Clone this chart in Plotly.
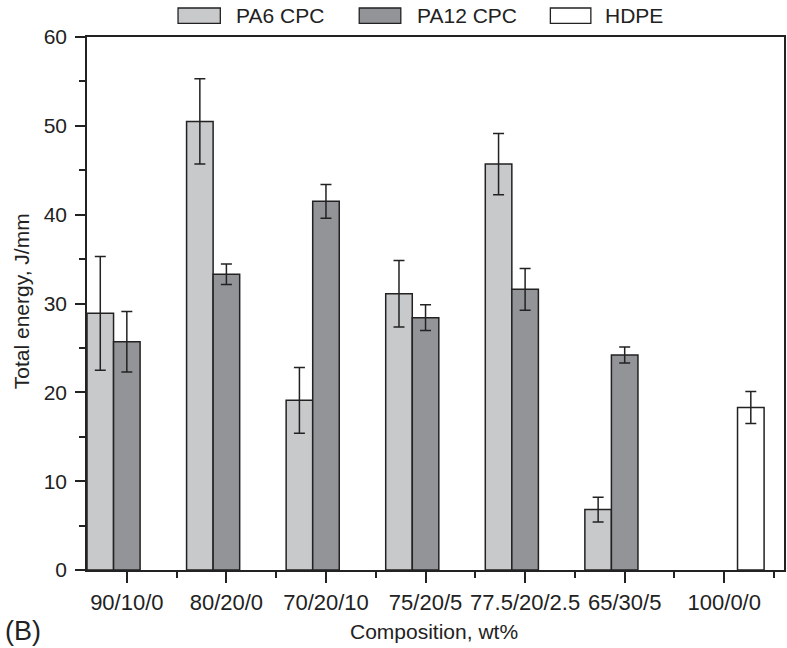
import plotly.graph_objects as go

categories = ["90/10/0", "80/20/0", "70/20/10", "75/20/5", "77.5/20/2.5", "65/30/5", "100/0/0"]
series_names = ["PA6 CPC", "PA12 CPC", "HDPE"]
pa6 = [28.9, 50.5, 19.1, 31.1, 45.7, 6.8, None]
pa6_err = [6.4, 4.8, 3.7, 3.75, 3.45, 1.4, None]
pa12 = [25.7, 33.3, 41.5, 28.4, 31.6, 24.2, None]
pa12_err = [3.4, 1.15, 1.9, 1.45, 2.35, 0.9, None]
hdpe = [None, None, None, None, None, None, 18.3]
hdpe_err = [None, None, None, None, None, None, 1.8]
y_ticks = [0, 10, 20, 30, 40, 50, 60]

W, H = 787, 648
ML, MR, MT, MB = 87, 1, 37, 78
PW, PH = W - ML - MR, H - MT - MB
FONT = "Liberation Sans, Arial, sans-serif"
INK = "#222222"
fills = ["#c8c9cb", "#939498", "#ffffff"]

def px_x(px):
    return (px - ML) / PW

def px_y(py):
    return (H - MB - py) / PH

xpos = list(range(len(categories)))
fig = go.Figure()
for name, vals, errs, col in zip(series_names, [pa6, pa12, hdpe], [pa6_err, pa12_err, hdpe_err], fills):
    fig.add_trace(go.Bar(
        x=xpos, y=vals, name=name,
        marker=dict(color=col, line=dict(color=INK, width=1.5)),
        error_y=dict(type="data", array=errs, visible=True, color=INK, thickness=1.5, width=5.5),
        showlegend=False,
    ))

# custom legend (wide swatches)
legend_rects = [(178.3, 220.7), (360, 401.7), (551.7, 592.3)]
legend_text_x = [234, 415.7, 604]
shapes = []
annotations = []
for (x0, x1), tx, name, col in zip(legend_rects, legend_text_x, series_names, fills):
    shapes.append(dict(type="rect", xref="paper", yref="paper",
                       x0=px_x(x0), x1=px_x(x1), y0=px_y(23.3), y1=px_y(8),
                       fillcolor=col, line=dict(color=INK, width=1.3)))
    annotations.append(dict(text=name, xref="paper", yref="paper", x=px_x(tx), y=px_y(15.5),
                            xanchor="left", yanchor="middle", showarrow=False,
                            font=dict(size=21, color=INK, family=FONT)))

annotations.append(dict(text="Total energy, J/mm", xref="paper", yref="paper",
                        x=px_x(21), y=px_y(301), textangle=-90, xanchor="center", yanchor="middle",
                        showarrow=False, font=dict(size=21, color=INK, family=FONT)))
annotations.append(dict(text="Composition, wt%", xref="paper", yref="paper",
                        x=px_x(435), y=px_y(631), xanchor="center", yanchor="middle",
                        showarrow=False, font=dict(size=21, color=INK, family=FONT)))
annotations.append(dict(text="(B)", xref="paper", yref="paper",
                        x=px_x(3), y=px_y(631), xanchor="left", yanchor="middle",
                        showarrow=False, font=dict(size=27, color=INK, family=FONT)))

fig.update_layout(
    width=W, height=H,
    margin=dict(l=ML, r=MR, t=MT, b=MB, pad=0),
    paper_bgcolor="white", plot_bgcolor="white",
    barmode="group", bargap=0.2, bargroupgap=0,
    font=dict(family=FONT, size=20, color=INK),
    shapes=shapes, annotations=annotations,
    showlegend=False,
)
fig.update_xaxes(
    range=[-0.4, 6.6], tickmode="array", tickvals=xpos, ticktext=categories,
    showgrid=False, zeroline=False, showline=True, linecolor=INK, linewidth=1.5, mirror=True,
    ticks="outside", ticklen=11, tickwidth=1.5, tickcolor=INK, ticklabelstandoff=1,
    tickfont=dict(size=22, color=INK, family=FONT),
    minor=dict(tick0=0.5, dtick=1, ticks="outside", ticklen=6, tickwidth=1.5, tickcolor=INK, showgrid=False),
)
fig.update_yaxes(
    range=[0, 60], tickmode="array", tickvals=y_ticks,
    showgrid=False, zeroline=False, showline=True, linecolor=INK, linewidth=1.5, mirror=True,
    ticks="outside", ticklen=10, tickwidth=1.5, tickcolor=INK, ticklabelstandoff=4,
    tickfont=dict(size=21, color=INK, family=FONT),
    minor=dict(tick0=5, dtick=10, ticks="outside", ticklen=6, tickwidth=1.5, tickcolor=INK, showgrid=False),
)
fig.write_html("out.html", config={"displayModeBar": False},
               post_script="document.body.style.margin='0';document.body.style.padding='0';")
